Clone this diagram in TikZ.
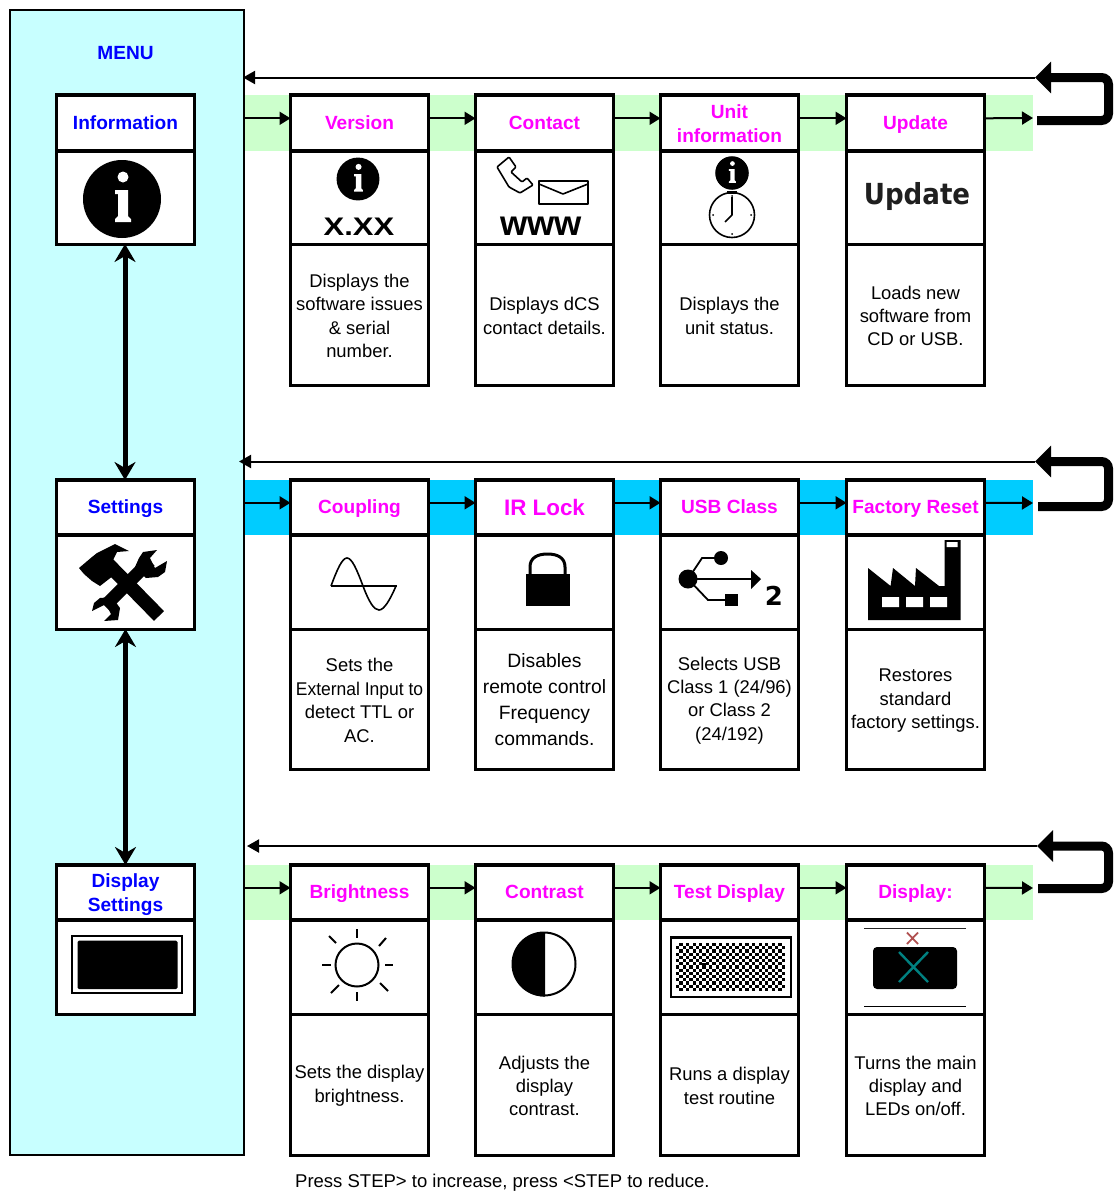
\documentclass[tikz,border=0pt]{standalone}
\usepackage{fontspec}
\setmainfont{Liberation Sans}
\newfontfamily\iconfont{DejaVu Sans}
\usetikzlibrary{arrows.meta,calc}
\definecolor{menucyan}{HTML}{C8FFFF}
\definecolor{bandgreen}{HTML}{CCFFCC}
\definecolor{bandblue}{HTML}{00CCFF}
\definecolor{titlemag}{HTML}{FF00FF}
\definecolor{titleblue}{HTML}{0000FF}
\definecolor{xred}{HTML}{B05050}
\definecolor{xteal}{HTML}{008080}
\tikzset{
  box/.style={draw=black,fill=white,line width=3,inner sep=0,outer sep=0,anchor=north west,minimum width=138,align=center},
  headbox/.style={box,line width=3.8,font=\fontsize{19.1}{24}\selectfont\bfseries,
    execute at begin node={\rule{0pt}{16.5pt}},execute at end node={\rule[-4pt]{0pt}{4pt}}},
  desc/.style={box,font=\fontsize{18.4}{23.4}\selectfont},
  tallrow/.style={font=\fontsize{19.3}{26}\selectfont},
  flow/.style={line width=2,-{Triangle[length=11,width=13]}},
  back/.style={line width=2,-{Triangle[length=12,width=13]}},
  loopline/.style={line width=9,rounded corners=7,-{Triangle[length=16,width=31]}},
  menulink/.style={line width=5,{Stealth[length=18,width=21,inset=6]}-{Stealth[length=18,width=21,inset=6]}},
  icon/.style={line width=1.6,line join=round}
}
\newcommand\twoline{\rule{0pt}{18.5pt}}
% name, x, y0, y1, y2, y3, title, description, extra desc style
\newcommand\stackbox[9]{
  \node[desc,#9,minimum height=#6-#5] (#1d) at (#2-0.5,#5) {\rule{0pt}{16pt}#8};
  \node[box,minimum height=#5-#4] (#1i) at (#2-0.5,#4) {};
  \node[headbox,text=titlemag,minimum height=#4-#3] (#1h) at (#2-0.5,#3) {#7};
}
% left column: name, y0, y1, y2, title
\newcommand\leftbox[5]{
  \node[box,minimum height=#4-#3] (#1i) at (56.5,#3) {};
  \node[headbox,text=titleblue,minimum height=#3-#2] (#1h) at (56.5,#2) {#5};
}
\newcommand\infodisc[3]{
  \begin{scope}[shift={(#1,#2)},scale=#3]
    \fill[black] (0,0) circle[radius=39];
    \fill[white] (1,-22) circle[radius=5.5];
    \fill[white] (-7,-9) -- (6,-9) -- (6,17) -- (9,20) -- (9,23) -- (-7,23) -- (-7,20) -- (-4,17) -- (-4,-5) -- (-7,-5) -- cycle;
  \end{scope}
}
\begin{document}
\begin{tikzpicture}[x=1pt,y=-1pt]
\useasboundingbox (0,0) rectangle (1114,1192);
\node[draw=black,fill=menucyan,line width=2.5,minimum width=234,minimum height=1145,inner sep=0,outer sep=0,anchor=north west] (menu) at (10,10) {};
\node[font=\fontsize{19.1}{24}\selectfont\bfseries,text=titleblue] (menutitle) at (125.5,53) {MENU};

% bands
\fill[bandgreen] (245,95) rectangle (1033,151);
\fill[bandblue] (245,480) rectangle (1033,535);
\fill[bandgreen] (245,865) rectangle (1033,920);

% left column
\leftbox{info}{95}{151}{244}{Information}
\leftbox{sett}{480}{535}{629}{Settings}
\leftbox{disp}{865}{920}{1014}{\twoline Display\\Settings}

% rows
\stackbox{ver}{291}{95}{151}{244}{385}{Version}{Displays the\\software issues\\\& serial\\number.}{}
\stackbox{con}{476}{95}{151}{244}{385}{Contact}{Displays dCS\\contact details.}{}
\stackbox{uni}{661}{95}{151}{244}{385}{\twoline Unit\\information}{Displays the\\unit status.}{}
\stackbox{upd}{847}{95}{151}{244}{385}{Update}{Loads new\\software from\\CD or USB.}{}

\stackbox{cou}{291}{480}{535}{629}{769}{Coupling}{Sets the\\\scalebox{0.95}[1]{External Input to}\\detect TTL or\\AC.}{}
\stackbox{irl}{476}{480}{535}{629}{769}{\raisebox{-2pt}{\fontsize{22.4}{26}\selectfont IR Lock}}{Disables\\remote control\\Frequency\\commands.}{tallrow}
\stackbox{usb}{661}{480}{535}{629}{769}{USB Class}{Selects USB\\Class 1 (24/96)\\or Class 2\\(24/192)}{}
\stackbox{fac}{847}{480}{535}{629}{769}{Factory Reset}{Restores\\standard\\factory settings.}{}

\stackbox{bri}{291}{865}{920}{1014}{1155}{Brightness}{Sets the display\\brightness.}{}
\stackbox{ctr}{476}{865}{920}{1014}{1155}{Contrast}{Adjusts the\\display\\contrast.}{}
\stackbox{tst}{661}{865}{920}{1014}{1155}{Test Display}{Runs a display\\test routine}{}
\stackbox{dsp}{847}{865}{920}{1014}{1155}{Display:}{Turns the main\\display and\\LEDs on/off.}{}

% forward arrows
\foreach \a/\b in {ver/con,con/uni,uni/upd,cou/irl,irl/usb,usb/fac,bri/ctr,ctr/tst,tst/dsp}
  \draw[flow] ([yshift=4.7pt]\a h.east) -- ([yshift=4.7pt]\b h.west);
\foreach \b in {ver,cou,bri}
  \draw[flow] ([yshift=4.7pt]\b h.west -| menu.east) -- ([yshift=4.7pt]\b h.west);
\coordinate (end1) at (1033,118);
\coordinate (end2) at (1033,503);
\coordinate (end3) at (1033,888);
\draw[flow] ([yshift=4.7pt]updh.east) -- (end1);
\draw[flow] ([yshift=4.7pt]fach.east) -- (end2);
\draw[flow] ([yshift=4.7pt]dsph.east) -- (end3);

% return loops
\coordinate (ls1) at (1037,120.5); \coordinate (lr1) at (1108.5,120.5); \coordinate (lt1) at (1108.5,77.5); \coordinate (tip1) at (1035,77.5);
\coordinate (ls2) at (1038,506.5); \coordinate (lr2) at (1108.5,506.5); \coordinate (lt2) at (1108.5,461.5); \coordinate (tip2) at (1035,461.5);
\coordinate (ls3) at (1038,888.5); \coordinate (lr3) at (1108.5,888.5); \coordinate (lt3) at (1108.5,846); \coordinate (tip3) at (1037,846);
\foreach \n in {1,2,3}
  \draw[loopline] (ls\n) -- (lr\n) -- (lt\n) -- (tip\n);
\draw[back] (tip1) -- ([xshift=-1pt]tip1 -| menu.east);
\draw[back] (tip2) -- ([xshift=-5pt]tip2 -| menu.east);
\draw[back] (tip3) -- ([xshift=3pt]tip3 -| menu.east);

% menu links
\draw[menulink] ([xshift=-0.5pt]infoi.south) -- ([xshift=-0.5pt]setth.north);
\draw[menulink] (setti.south) -- (disph.north);

% ---------- icons ----------
\infodisc{122}{199}{1}
\infodisc{358}{179}{0.55}
\node[font=\fontsize{31}{31}\selectfont\bfseries,inner sep=0] (verx) at (359,227) {\scalebox{1}[0.82]{X.XX}};

% contact
\draw[icon,rounded corners=1] (497,167) -- (509,157) -- (516,167) -- (511,172) -- (522,182) -- (527,178) -- (533,185) -- (520,193) -- (509,187) -- cycle;
\draw[icon,line width=1.8] (539,181) rectangle (588,204);
\draw[icon] (539,184) -- (563,194) -- (588,184);
\node[font=\fontsize{35}{35}\selectfont\bfseries,inner sep=0] (www) at (541,226) {www};

% unit information
\infodisc{732}{173}{0.43}
\draw[icon] (732,215) circle[radius=22.5];
\draw[icon] (732,197) -- (732,215) -- (725,222);
\fill (727,191) rectangle (737,193.5);
\foreach \ang in {0,90,180,270} \fill ($(732,215)+(\ang:19)$) circle[radius=1];

% update
\node[font=\iconfont\fontsize{29}{29}\selectfont\bfseries,inner sep=0,text=black!88] (updlabel) at (917,196) {\scalebox{0.9}[1]{Update}};

% tools icon
\begin{scope}[line join=round]
\draw[line width=14] (106,562) -- (159,616);
\fill (79,568) -- (92,557) -- (97,553) -- (115,544) -- (129,551) -- (117,552) -- (113,560) -- (118,572) -- (100,586) -- (92,581) -- (84,574) -- cycle;
\draw[line width=13] (105,606) -- (150,561);
\fill (143,552) -- (157,550) -- (150,558) -- (155,568) -- (167,561) -- (165,572) -- (158,577) -- (146,578) -- (135,567) -- (139,558) -- cycle;
\fill (92,611) -- (94,603) -- (100,598) -- (112,597) -- (120,608) -- (118,620) -- (104,621) -- (111,614) -- (106,604) -- cycle;
\end{scope}

% coupling sine
\draw[icon] (331,586) -- (397,586);
\draw[icon] (331,586) .. controls (337,570) and (342,558) .. (347,558) .. controls (352,558) and (357,570) .. (363,586) .. controls (369,602) and (374,610) .. (379,610) .. controls (384,610) and (390,600) .. (396,586);

% lock
\fill (526,574) rectangle (569.5,606);
\draw[line width=3] (530,575) -- (530,567) .. controls (530,558) and (537,554) .. (547.5,554) .. controls (558,554) and (565,558) .. (565,567) -- (565,575);

% usb
\fill (688,579) circle[radius=9.5];
\draw[line width=2] (688,579) -- (752,579);
\fill (751,570) -- (761,579) -- (751,589) -- cycle;
\draw[line width=1.8] (688,579) -- (702,558) -- (721,558);
\fill (721,558) circle[radius=7];
\draw[line width=1.8] (688,579) -- (708,600) -- (727,600);
\fill (725,594) rectangle (738,606);
\node[font=\iconfont\fontsize{26}{26}\selectfont\bfseries,inner sep=0] (usbtwo) at (774,596) {2};

% factory
\fill (868,568) -- (890.6,586) -- (893,568) -- (915,586) -- (916,568) -- (939,586) -- (944.5,586) -- (944.5,540) -- (960.6,540) -- (960.6,620) -- (868,620) -- cycle;
\fill[white] (882,597) rectangle (899,607) (906,597) rectangle (923,607) (930,597) rectangle (947,607) (946.6,542) rectangle (957.6,547);

% display settings
\draw[line width=2] (72,936) rectangle (182,993);
\fill[rounded corners=1.5] (77.5,940.5) rectangle (177.5,989);

% sun
\draw[line width=2] (357,965) circle[radius=21.5];
\draw[line width=2.6] (357,929) -- (357,938) (357,992) -- (357,1001) (322,965) -- (331,965) (385,965) -- (393,965);
\draw[line width=2] (329,936) -- (336,943) (386,938) -- (379,946) (331,993) -- (339,985) (388,991) -- (380,983);

% contrast
\draw[line width=2] (544,964) circle[radius=31.5];
\fill (545,932) arc[start angle=-90,end angle=-270,radius=32.3] -- cycle;

% test display
\draw[line width=2.8] (671,937.5) rectangle (791,997);
\foreach \i in {0,...,32} \foreach \j in {0,...,14} {
  \pgfmathtruncatemacro\chk{\i+\j}
  \ifodd\chk\relax \fill (676+\i*3.3,943+\j*3.2) rectangle ++(3.3,3.2); \fi
}
\fill[black] (702,963) rectangle (706,967);

% display on/off
\draw[line width=1.8,black!85] (864,928.5) -- (966,928.5);
\draw[line width=1.8] (864,1006.5) -- (966,1006.5);
\draw[line width=1.8,xred] (907,932.5) -- (918,944) (918,932.5) -- (907,944);
\fill[rounded corners=4] (873,947) rectangle (957,989);
\draw[line width=2.4,xteal] (899,952) -- (928,982) (928,952) -- (899,982);

\node[font=\fontsize{18.5}{23}\selectfont,anchor=west,inner sep=0] (note) at (295,1183) {Press STEP> to increase, press <STEP to reduce.};
\end{tikzpicture}
\end{document}
